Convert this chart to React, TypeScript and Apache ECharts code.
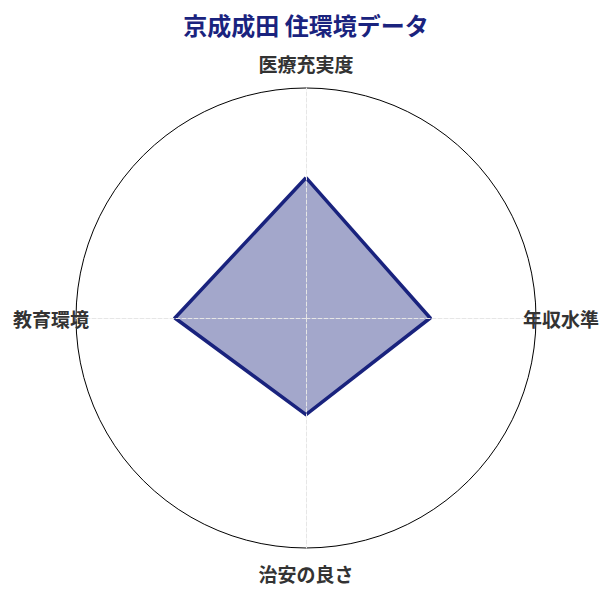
import { useEffect, useRef } from "react";
import * as echarts from "echarts";

const indicators = ["医療充実度", "教育環境", "治安の良さ", "年収水準"];
const maxValues = [100, 100, 100, 100];
const scores = [61, 57, 42, 54];

export default function App() {
  const ref = useRef<HTMLDivElement>(null);

  useEffect(() => {
    if (!ref.current) return;
    const chart = echarts.init(ref.current, null, { renderer: "svg" });
    chart.setOption({
      animation: false,
      backgroundColor: "#ffffff",
      textStyle: { fontFamily: "Noto Sans CJK JP" },
      title: {
        text: "京成成田 住環境データ",
        left: "center",
        top: 7,
        textStyle: { color: "#1a237e", fontSize: 24, fontWeight: "bold", fontFamily: "Noto Sans CJK JP" },
      },
      radar: {
        center: [306, 318],
        radius: 230,
        shape: "circle",
        splitNumber: 1,
        z: 5,
        indicator: indicators.map((name, i) => ({ name, max: maxValues[i] })),
        nameGap: 25,
        axisName: {
          color: "#333333",
          fontSize: 19,
          fontWeight: "bold",
          fontFamily: "Noto Sans CJK JP",
          align: "center",
          verticalAlign: "middle",
        },
        axisLine: { lineStyle: { color: "#e6e6e6", type: "dashed", width: 1 } },
        splitLine: { lineStyle: { color: "#000000", width: 1 } },
        splitArea: { show: false },
      },
      series: [
        {
          type: "radar",
          z: 2,
          symbol: "none",
          data: [
            {
              value: scores,
              lineStyle: { color: "#1a237e", width: 3.5 },
              areaStyle: { color: "#1a237e", opacity: 0.4 },
            },
          ],
        },
      ],
    });
    return () => chart.dispose();
  }, []);

  return (
    <div
      ref={ref}
      style={{ position: "absolute", left: 0, top: 0, width: 612, height: 595 }}
    />
  );
}
